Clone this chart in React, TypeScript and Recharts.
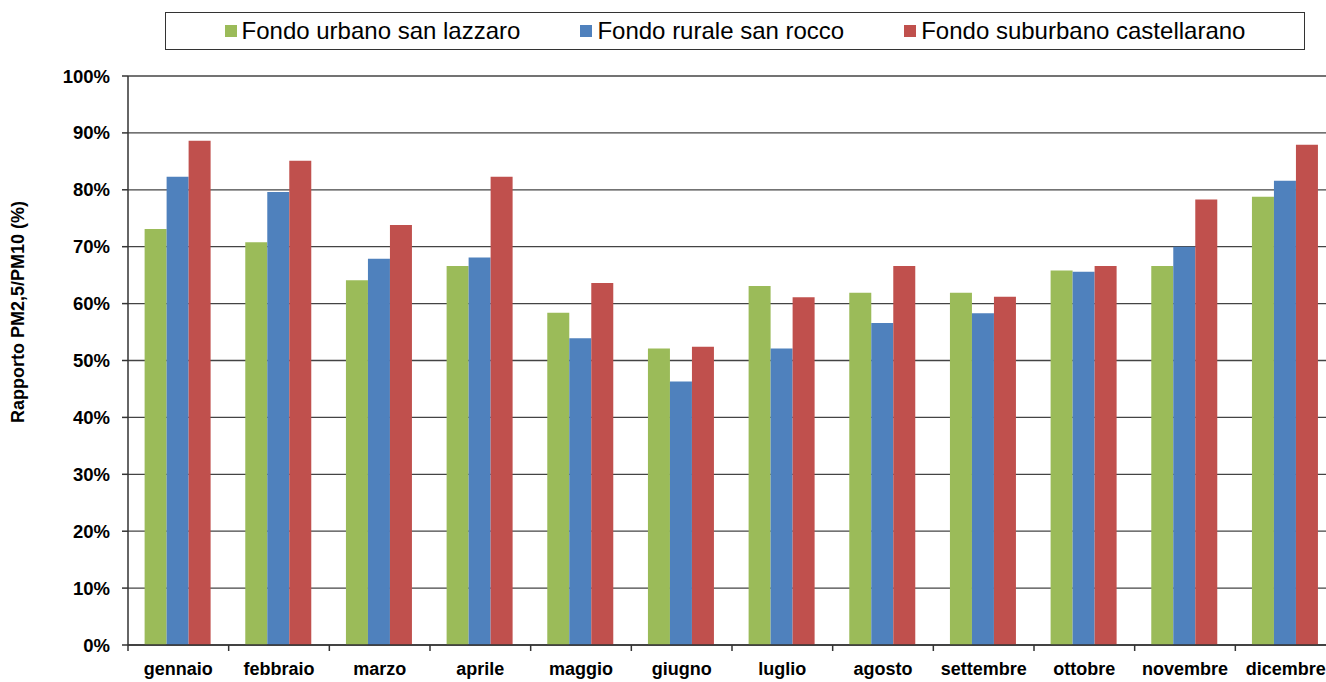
import { Bar, BarChart, CartesianGrid, Legend, XAxis, YAxis } from "recharts";

const months = [
  "gennaio",
  "febbraio",
  "marzo",
  "aprile",
  "maggio",
  "giugno",
  "luglio",
  "agosto",
  "settembre",
  "ottobre",
  "novembre",
  "dicembre",
];

const urbanoSanLazzaro = [73.1, 70.8, 64.1, 66.6, 58.4, 52.1, 63.1, 61.9, 61.9, 65.8, 66.6, 78.8];
const ruraleSanRocco = [82.3, 79.6, 67.9, 68.1, 53.9, 46.3, 52.1, 56.6, 58.3, 65.6, 70.0, 81.6];
const suburbanoCastellarano = [88.6, 85.1, 73.8, 82.3, 63.6, 52.4, 61.1, 66.6, 61.2, 66.6, 78.3, 87.9];

const yTicks = [0, 10, 20, 30, 40, 50, 60, 70, 80, 90, 100];

const series = [
  { key: "urbano", name: "Fondo urbano san lazzaro", color: "#9BBB59" },
  { key: "rurale", name: "Fondo rurale san rocco", color: "#4F81BD" },
  { key: "suburbano", name: "Fondo suburbano castellarano", color: "#C0504D" },
];

const data = months.map((m, i) => ({
  month: m,
  urbano: urbanoSanLazzaro[i],
  rurale: ruraleSanRocco[i],
  suburbano: suburbanoCastellarano[i],
}));

const FONT = "'Liberation Sans', Arial, sans-serif";
const CHART_W = 1340;
const CHART_H = 682;
const MARGIN = { top: 76, right: 4, left: 0, bottom: 0 };
const Y_AXIS_W = 128;
const X_AXIS_H = 37;
const PLOT_BOTTOM = CHART_H - MARGIN.bottom - X_AXIS_H;
const BAND = (CHART_W - MARGIN.left - MARGIN.right - Y_AXIS_W) / months.length;
const AXIS_COLOR = "#333";

// eslint-disable-next-line @typescript-eslint/no-explicit-any
const MonthTick = (props: any) => {
  const { x, payload } = props;
  const isLast = payload.index === months.length - 1;
  return (
    <g>
      <line x1={x - BAND / 2} x2={x - BAND / 2} y1={PLOT_BOTTOM} y2={PLOT_BOTTOM + 6} stroke={AXIS_COLOR} strokeWidth={1.5} />
      {isLast && (
        <line x1={x + BAND / 2} x2={x + BAND / 2} y1={PLOT_BOTTOM} y2={PLOT_BOTTOM + 6} stroke={AXIS_COLOR} strokeWidth={1.5} />
      )}
      <text x={x} y={PLOT_BOTTOM + 30} textAnchor="middle" fontSize={18} fontWeight="bold" fontFamily={FONT} fill="#000">
        {payload.value}
      </text>
    </g>
  );
};

// eslint-disable-next-line @typescript-eslint/no-explicit-any
const PercentTick = (props: any) => {
  const { y, payload } = props;
  return (
    <text x={Y_AXIS_W - 18} y={y} dy={6.5} textAnchor="end" fontSize={18.5} fontWeight="bold" fontFamily={FONT} fill="#000">
      {`${payload.value}%`}
    </text>
  );
};

const AxisTitle = () => (
  <text
    x={24}
    y={312}
    transform="rotate(-90, 24, 312)"
    textAnchor="middle"
    fontSize={18}
    fontWeight="bold"
    fontFamily={FONT}
    fill="#000"
  >
    Rapporto PM2,5/PM10 (%)
  </text>
);

const LegendBox = () => (
  <div
    style={{
      width: 1140,
      height: 38,
      boxSizing: "border-box",
      border: "1.5px solid #333",
      background: "#fff",
      display: "flex",
      alignItems: "center",
      justifyContent: "center",
      gap: 60,
      fontFamily: FONT,
      fontSize: 24,
      color: "#000",
    }}
  >
    {series.map((s) => (
      <div key={s.key} style={{ display: "flex", alignItems: "center" }}>
        <span style={{ width: 12, height: 12, background: s.color, marginRight: 5, display: "inline-block" }} />
        <span>{s.name}</span>
      </div>
    ))}
  </div>
);

const App = () => {
  return (
    <div style={{ position: "absolute", left: 0, top: 0, width: 1326, height: 682, overflow: "hidden", background: "#fff" }}>
      <BarChart width={CHART_W} height={CHART_H} data={data} margin={MARGIN} barCategoryGap="16.5%" barGap={0}>
        <CartesianGrid vertical={false} stroke="#444" strokeWidth={1.3} />
        <XAxis
          dataKey="month"
          height={X_AXIS_H}
          tick={<MonthTick />}
          tickLine={false}
          interval={0}
          axisLine={{ stroke: AXIS_COLOR, strokeWidth: 1.5 }}
        />
        <YAxis
          width={Y_AXIS_W}
          domain={[0, 100]}
          ticks={yTicks}
          interval={0}
          tick={<PercentTick />}
          tickSize={6}
          tickLine={{ stroke: AXIS_COLOR, strokeWidth: 1.5 }}
          axisLine={{ stroke: AXIS_COLOR, strokeWidth: 1.5 }}
          label={<AxisTitle />}
        />
        <Legend
          verticalAlign="middle"
          align="center"
          content={<LegendBox />}
          wrapperStyle={{ top: 12, left: 165, width: 1140, height: 38 }}
        />
        {series.map((s) => (
          <Bar key={s.key} dataKey={s.key} name={s.name} fill={s.color} isAnimationActive={false} />
        ))}
      </BarChart>
    </div>
  );
};

export default App;
